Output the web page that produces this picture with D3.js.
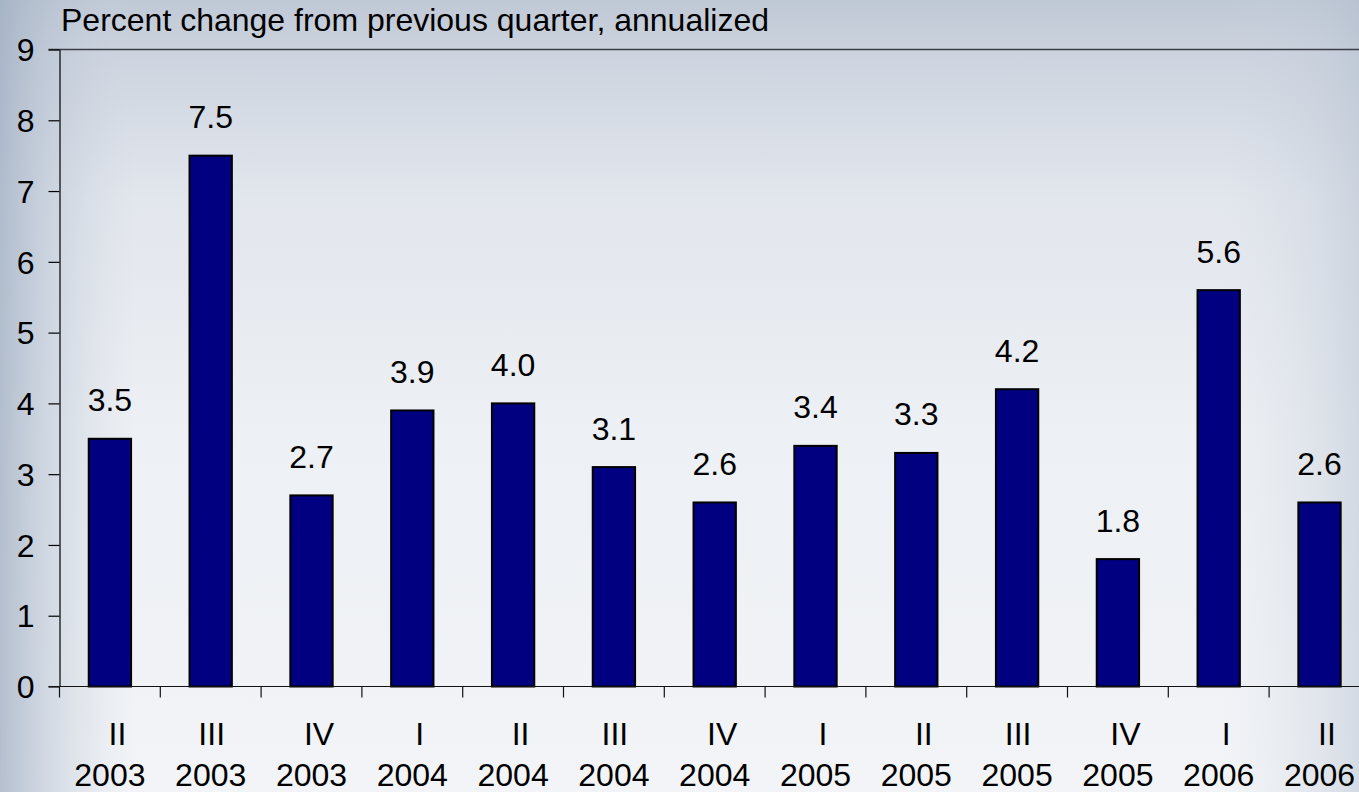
<!DOCTYPE html>
<html>
<head>
<meta charset="utf-8">
<script src="https://cdn.jsdelivr.net/npm/d3@7"></script>
<style>
  html, body { margin: 0; padding: 0; overflow: hidden; background: #e6eaf0; }
  svg { display: block; }
  text { font-family: "Liberation Sans", Arial, sans-serif; fill: #000; }
</style>
</head>
<body>
<svg id="chart" width="1359" height="792"></svg>
<script>
// Real GDP growth by quarter, percent change from previous quarter (annualized)
const quarterLabels = ["II", "III", "IV", "I", "II", "III", "IV", "I", "II", "III", "IV", "I", "II"];
const yearLabels = ["2003", "2003", "2003", "2004", "2004", "2004", "2004", "2005", "2005", "2005", "2005", "2006", "2006"];
const growthValues = [3.5, 7.5, 2.7, 3.9, 4.0, 3.1, 2.6, 3.4, 3.3, 4.2, 1.8, 5.6, 2.6];
const yTickValues = [0, 1, 2, 3, 4, 5, 6, 7, 8, 9];
const axisTitle = "Percent change from previous quarter, annualized";

const W = 1359, H = 792;
const svg = d3.select("#chart");
const defs = svg.append("defs");

// Slide background: cool grey-blue wash, darker at the top and the side edges
const vGrad = defs.append("linearGradient").attr("id", "bgV")
  .attr("x1", 0).attr("y1", 0).attr("x2", 0).attr("y2", 1);
[[0, "#bfc8d5"], [0.07, "#cdd4df"], [0.25, "#e2e6ed"], [0.55, "#edf0f4"], [1, "#f2f4f7"]]
  .forEach(([o, c]) => vGrad.append("stop").attr("offset", o).attr("stop-color", c));

const hGrad = defs.append("linearGradient").attr("id", "bgH")
  .attr("x1", 0).attr("y1", 0).attr("x2", 1).attr("y2", 0);
[[0, "#9fadc2", 0.75], [0.04, "#b4c0d0", 0.45], [0.1, "#d0d7e2", 0.0],
 [0.9, "#d0d7e2", 0.0], [0.97, "#bcc6d4", 0.3], [1, "#b0bccc", 0.45]]
  .forEach(([o, c, a]) => hGrad.append("stop").attr("offset", o).attr("stop-color", c).attr("stop-opacity", a));

svg.append("rect").attr("width", W).attr("height", H).attr("fill", "url(#bgV)");
svg.append("rect").attr("width", W).attr("height", H).attr("fill", "url(#bgH)");

// Scales
const plotLeft = 59.5, plotTop = 49.5, plotBottom = 686.5;
const step = 100.8;
const idx = d3.range(growthValues.length);
const xRange = [plotLeft, plotLeft + step * idx.length];

const x = d3.scaleBand().domain(idx).range(xRange).paddingInner(0.58).paddingOuter(0.29);
const xCat = d3.scaleBand().domain(idx).range(xRange).padding(0);
const y = d3.scaleLinear().domain([0, 9]).range([plotBottom, plotTop]);

// Plot frame: top border line
svg.append("line")
  .attr("x1", plotLeft - 11).attr("x2", W)
  .attr("y1", y(9)).attr("y2", y(9))
  .attr("stroke", "#3a3e46").attr("stroke-width", 1.5);

// Bars
svg.append("g").selectAll("rect").data(idx).join("rect")
  .attr("x", i => x(i))
  .attr("y", i => y(growthValues[i]))
  .attr("width", x.bandwidth())
  .attr("height", i => y(0) - y(growthValues[i]))
  .attr("fill", "#000080")
  .attr("stroke", "#000")
  .attr("stroke-width", 2);

// Value labels
svg.append("g").selectAll("text").data(idx).join("text")
  .attr("x", i => x(i) + x.bandwidth() / 2)
  .attr("y", i => y(growthValues[i]) - 27.5)
  .attr("text-anchor", "middle")
  .attr("font-size", 32)
  .text(i => d3.format(".1f")(growthValues[i]));

// Y axis
const yAxis = svg.append("g")
  .attr("transform", `translate(${plotLeft},0)`)
  .call(d3.axisLeft(y).tickValues(yTickValues).tickSize(11).tickPadding(14).tickSizeOuter(0)
    .tickFormat(d3.format("d")));
yAxis.select(".domain").attr("stroke", "#000").attr("stroke-width", 1.2);
yAxis.selectAll(".tick line").attr("stroke", "#000").attr("stroke-width", 1.2);
yAxis.selectAll(".tick text")
  .attr("font-size", 32)
  .attr("font-family", "Liberation Sans, Arial, sans-serif")
  .attr("fill", "#000")
  .attr("dy", "0.35em");

// X axis baseline and category boundary ticks
svg.append("line")
  .attr("x1", plotLeft - 11).attr("x2", W)
  .attr("y1", y(0)).attr("y2", y(0))
  .attr("stroke", "#111").attr("stroke-width", 1.2);
svg.append("g").selectAll("line").data(idx).join("line")
  .attr("x1", i => xCat(i)).attr("x2", i => xCat(i))
  .attr("y1", y(0)).attr("y2", y(0) + 11)
  .attr("stroke", "#111").attr("stroke-width", 1.2);

// Category labels: quarter numeral above the year
const catLabels = svg.append("g").selectAll("g").data(idx).join("g")
  .attr("transform", i => `translate(${xCat(i) + xCat.bandwidth() / 2},0)`);
catLabels.append("text")
  .attr("x", i => quarterLabels[i] === "III" ? 1 : 7.5)
  .attr("y", 745)
  .attr("text-anchor", "middle")
  .attr("font-size", 32)
  .text(i => quarterLabels[i]);
catLabels.append("text")
  .attr("y", 786)
  .attr("text-anchor", "middle")
  .attr("font-size", 32)
  .text(i => yearLabels[i]);

// Axis title
svg.append("text")
  .attr("x", 61)
  .attr("y", 31)
  .attr("font-size", 32)
  .text(axisTitle);
</script>
</body>
</html>
